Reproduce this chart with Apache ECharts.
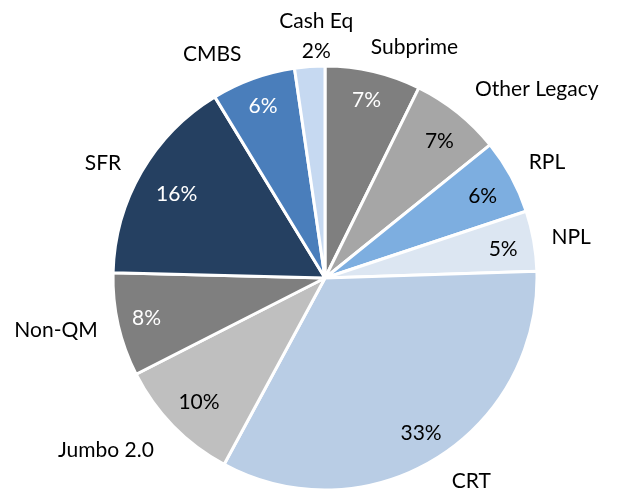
<!DOCTYPE html>
<html>
<head>
    <meta charset="utf-8">
    <title>Portfolio Allocation</title>
    <script src="https://cdn.jsdelivr.net/npm/echarts@6/dist/echarts.min.js"></script>
    <style>
        html, body { margin: 0; padding: 0; background: #fff; }
        #chart { width: 618px; height: 489px; }
    </style>
</head>
<body>
<div id="chart"></div>
<script>
    // clockwise from 12 o'clock, shares in %
    var categories = ['Subprime', 'Other Legacy', 'RPL', 'NPL', 'CRT', 'Jumbo 2.0', 'Non-QM', 'SFR', 'CMBS', 'Cash Eq'];
    var shares = [7.3, 6.9, 5.7, 4.6, 33.4, 9.6, 7.9, 15.9, 6.4, 2.3];
    var colors = ['#7F7F7F', '#A6A6A6', '#7DAEE0', '#DCE6F2', '#B9CDE5', '#BFBFBF', '#7F7F7F', '#254061', '#4A7EBB', '#C6D9F1'];
    var pctColors = ['#fff', '#000', '#000', '#000', '#000', '#000', '#fff', '#fff', '#fff', '#000'];
    // slices too thin to hold their percentage get it under the name instead
    var pctOutside = ['Cash Eq'];

    var font = 'Lato, "Open Sans", sans-serif';

    // small hand offsets so the labels sit like excel put them
    var nameNudge = {
        'Subprime': [-12, -5],
        'Other Legacy': [0, -8],
        'RPL': [-5, -5],
        'NPL': [-7, 0],
        'CRT': [0, 6],
        'Jumbo 2.0': [0, 10],
        'Non-QM': [4, 1],
        'SFR': [2, 1],
        'CMBS': [0, -5]
    };
    var pctNudge = {
        'Other Legacy': [0, 6],
        'RPL': [-3, 6],
        'NPL': [-2, 3],
        'Jumbo 2.0': [5, -4],
        'SFR': [10, 8]
    };

    function pct(v) {
        return Math.round(v) + '%';
    }

    function nudged(map) {
        return function (params) {
            var n = map[categories[params.dataIndex]] || [0, 0];
            return {dx: n[0], dy: n[1], hideOverlap: false};
        };
    }

    var outerData = categories.map(function (name, i) {
        return {name: name, value: shares[i], itemStyle: {color: colors[i]}};
    });

    var innerData = categories.map(function (name, i) {
        return {
            name: name, value: shares[i],
            label: {show: pctOutside.indexOf(name) < 0, color: pctColors[i]}
        };
    });

    var nameLayout = nudged(nameNudge);

    var chart = echarts.init(document.getElementById('chart'));
    chart.setOption({
        animation: false,
        series: [
            {
                type: 'pie',
                center: [325, 278],
                radius: [0, 212],
                startAngle: 90,
                clockwise: true,
                avoidLabelOverlap: false,
                minShowLabelAngle: 0,
                data: outerData,
                itemStyle: {borderColor: '#fff', borderWidth: 3},
                label: {
                    position: 'outside',
                    formatter: function (p) {
                        return pctOutside.indexOf(p.name) >= 0 ? p.name + '\n' + pct(p.value) : p.name;
                    },
                    color: '#000',
                    fontFamily: font,
                    fontSize: 21,
                    lineHeight: 30
                },
                labelLine: {show: false, length: 20, length2: 0},
                labelLayout: function (params) {
                    if (pctOutside.indexOf(categories[params.dataIndex]) >= 0) {
                        return {align: 'center', dx: 13, dy: -10, hideOverlap: false};
                    }
                    return nameLayout(params);
                },
                silent: true
            },
            {
                type: 'pie',
                center: [325, 278],
                radius: [156, 204],
                startAngle: 90,
                clockwise: true,
                avoidLabelOverlap: false,
                data: innerData,
                itemStyle: {color: 'transparent'},
                label: {
                    position: 'inside',
                    formatter: function (p) { return pct(p.value); },
                    fontFamily: font,
                    fontSize: 21
                },
                labelLine: {show: false},
                labelLayout: nudged(pctNudge),
                silent: true
            }
        ]
    });
</script>
</body>
</html>
